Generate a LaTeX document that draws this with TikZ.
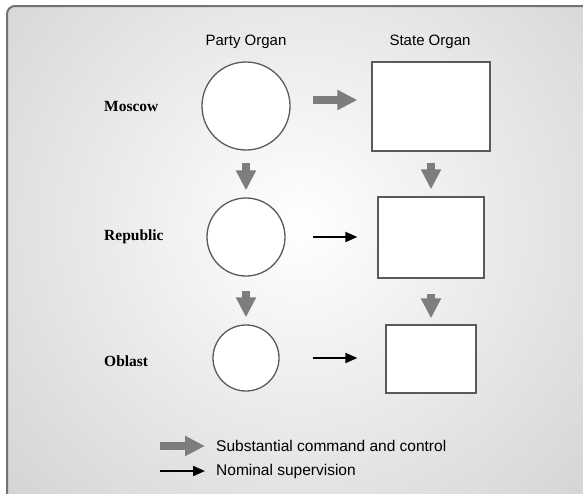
\documentclass[tikz,border=0pt]{standalone}
\usepackage{fontspec}
\setmainfont{Liberation Serif}
\setsansfont{Liberation Sans}
\usetikzlibrary{arrows.meta}
\definecolor{arrowgray}{RGB}{125,125,125}
\definecolor{framegray}{RGB}{115,115,115}
\definecolor{edgegray}{RGB}{90,90,90}
\definecolor{bgouter}{RGB}{178,178,178}
\tikzset{
  circ/.style={circle, draw=edgegray, line width=1.3pt, fill=white, inner sep=0pt},
  boxnode/.style={rectangle, draw=edgegray, line width=1.3pt, fill=white, inner sep=0pt},
  bigarrow/.style={draw=arrowgray, line width=8pt, -{Triangle[length=20pt,width=19pt]}, arrowgray},
  thinarrow/.style={draw=black, line width=2pt, -{Triangle[length=12pt,width=10pt]}},
  header/.style={font=\sffamily\fontsize{15}{18}\selectfont, inner sep=0pt},
  rowlabel/.style={font=\bfseries\fontsize{15.5}{18}\selectfont, inner sep=0pt, anchor=west},
  legendtext/.style={font=\sffamily\fontsize{15.5}{18}\selectfont, inner sep=0pt, anchor=west}
}
\begin{document}
\begin{tikzpicture}[x=1pt, y=-1pt]
\useasboundingbox (0,0) rectangle (583,493);
\fill[white] (0,0) rectangle (583,493);
\begin{scope}
  \clip[rounded corners=8pt] (7,6) rectangle (600,510);
  \shade[inner color=white, outer color=bgouter] (300,225) circle (720);
\end{scope}
\draw[framegray, line width=2pt, rounded corners=8pt] (7,510) -- (7,6) -- (600,6);

% headers
\node[header] (hp) at (246,42) {Party Organ};
\node[header] (hs) at (430,42) {State Organ};

% row labels
\node[rowlabel] (lm) at (104,106) {Moscow};
\node[rowlabel] (lr) at (104,237) {Republic};
\node[rowlabel] (lo) at (104,361) {Oblast};

% party organs
\node[circ, minimum size=88pt] (pm) at (246,106) {};
\node[circ, minimum size=78pt] (pr) at (246,237) {};
\node[circ, minimum size=66pt] (pb) at (246,358) {};

% state organs
\node[boxnode, minimum width=118pt, minimum height=89pt] (sm) at (431,106.5) {};
\node[boxnode, minimum width=106pt, minimum height=81pt] (sr) at (431,237.5) {};
\node[boxnode, minimum width=90pt, minimum height=68pt] (sb) at (431,359) {};

% horizontal arrows
\draw[bigarrow, shorten <=22pt, shorten >=14pt] ([yshift=6pt]pm.east) -- ([yshift=6pt]pm.east -| sm.west);
\draw[thinarrow, shorten <=27pt, shorten >=20pt] (pr.east) -- (pr.east -| sr.west);
\draw[thinarrow, shorten <=33pt, shorten >=28pt] (pb.east) -- (pb.east -| sb.west);

% vertical arrows
\draw[bigarrow, shorten <=12pt, shorten >=7pt] (pm.south) -- (pr.north);
\draw[bigarrow, shorten <=14pt, shorten >=7pt] (pr.south) -- (pb.north);
\draw[bigarrow, shorten <=11pt, shorten >=7pt] (sm.south) -- (sr.north);
\draw[bigarrow, shorten <=15pt, shorten >=6pt] (sr.south) -- (sb.north);

% legend
\coordinate (la) at (160,446);
\coordinate (lb) at (160,471);
\node[legendtext] (ta) at (216,446) {Substantial command and control};
\node[legendtext] (tb) at (216,471) {Nominal supervision};
\draw[bigarrow, shorten >=11pt] (la) -- (ta.west);
\draw[thinarrow, shorten >=11pt] (lb) -- (tb.west);
\end{tikzpicture}
\end{document}
